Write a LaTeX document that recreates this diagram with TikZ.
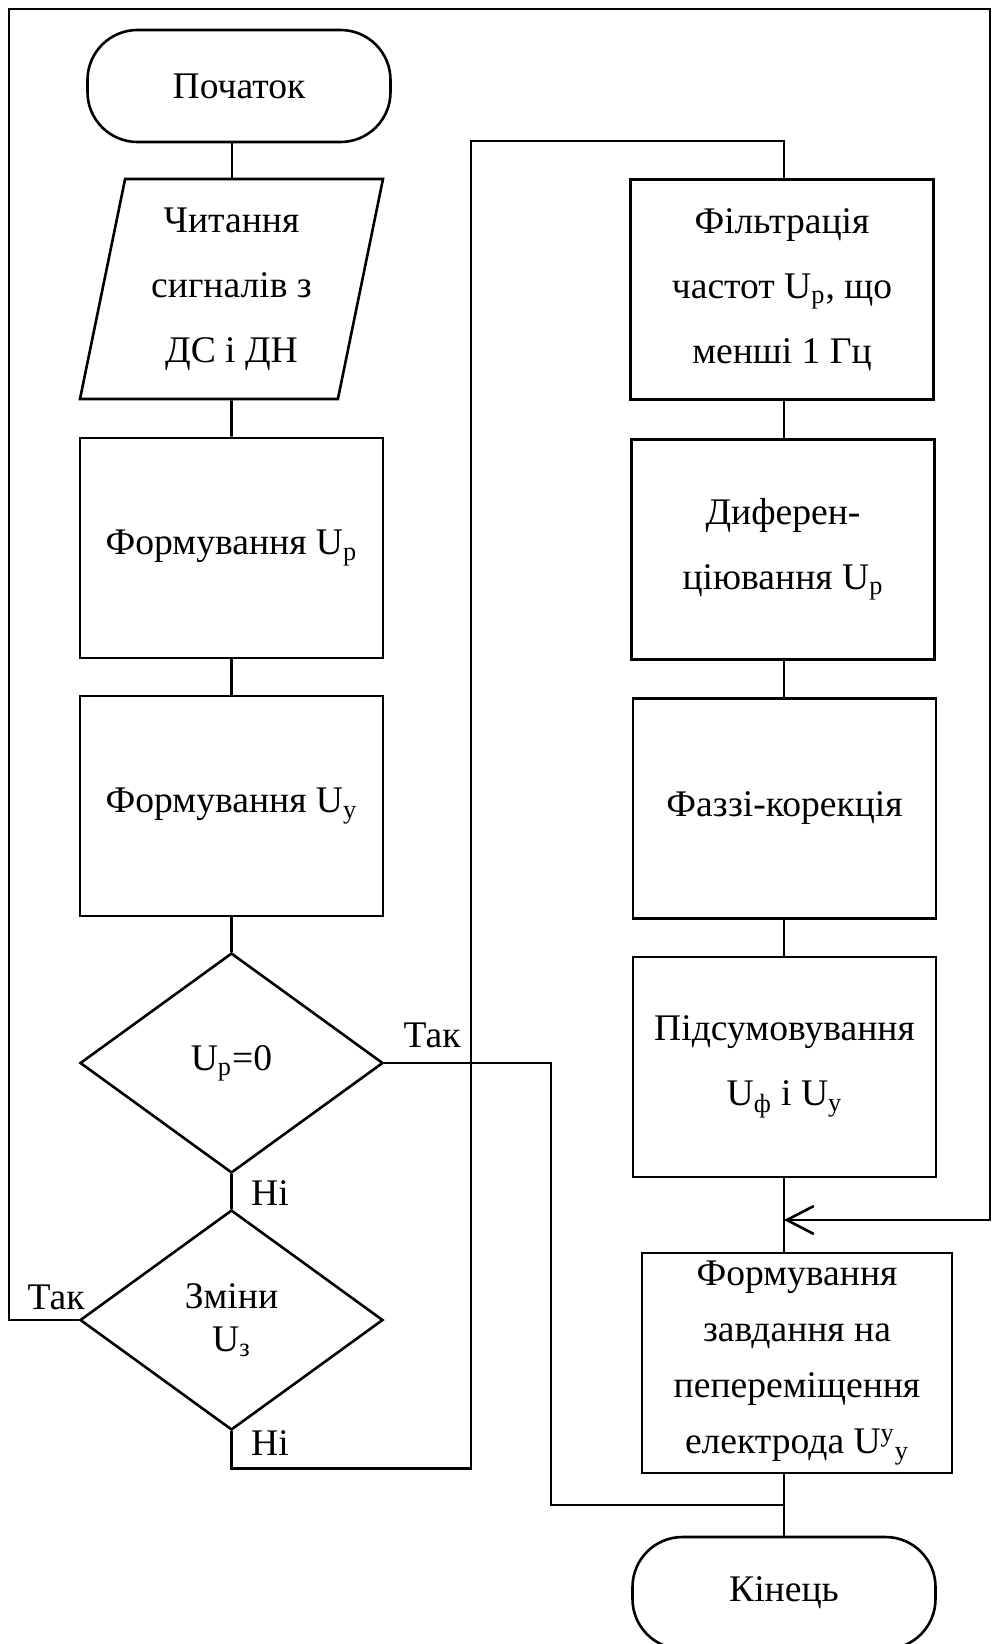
\documentclass[tikz,border=0pt]{standalone}
\usepackage{fontspec}
\setmainfont{Liberation Serif}
\usetikzlibrary{shapes.geometric,shapes.misc,arrows.meta,positioning,calc}

\begin{document}
\begin{tikzpicture}[x=0.5pt,y=-0.5pt,line width=1.3pt,
  font=\fontsize{18.8}{32.5}\selectfont,
  proc/.style={draw,rectangle,align=center,inner sep=0pt,minimum width=151.5pt,minimum height=110pt},
  term/.style={draw,rectangle,rounded corners=25pt,inner sep=0pt,minimum width=151.5pt,minimum height=56pt},
  io/.style={draw,trapezium,trapezium left angle=74.5,trapezium right angle=105.5,trapezium stretches body,
    align=center,inner sep=0pt,minimum width=151.5pt,minimum height=110pt},
  cond/.style={draw,diamond,aspect=1.38,align=center,inner sep=0pt,minimum width=151.5pt,minimum height=110pt},
  lbl/.style={inner sep=0pt},
  tip/.style={-{Straight Barb[length=13.5pt,width=14pt]}}]
  \useasboundingbox (0,0) rectangle (992,1644);
  \clip (0,0) rectangle (992,1644);

  % axes of the two columns and the bends of the loops
  \coordinate (lc) at (232,0);
  \coordinate (rc) at (784,0);
  \coordinate (bypass) at (471,141);
  \coordinate (ftl) at (9,9);
  \coordinate (fr) at (990,1220);
  \coordinate (merge) at (784,1220);
  \coordinate (ybend) at (551,1505);

  % left column
  \node[term] (start) at (239,86) {Початок};
  \node[io] (read) at (231.5,289) {Читання\\сигналів з\\ДС і ДН};
  \node[proc] (fup) at (231.5,548) {Формування U\textsubscript{р}};
  \node[proc] (fuy) at (231.5,806) {Формування U\textsubscript{у}};
  \node[cond] (zero) at (231.5,1063) {U\textsubscript{р}=0};
  \node[cond,font=\fontsize{18.8}{21.5}\selectfont] (chg) at (231.5,1320) {Зміни\\U\textsubscript{з}};

  % right column
  \node[proc] (filt) at (782,289.5) {Фільтрація\\частот U\textsubscript{р}, що\\менші 1 Гц};
  \node[proc] (diff) at (783,549.5) {Диферен-\\ціювання U\textsubscript{р}};
  \node[proc] (fuzzy) at (784.5,808.5) {Фаззі-корекція};
  \node[proc] (sum) at (784.5,1067) {Підсумовування\\U\textsubscript{ф} і U\textsubscript{у}};
  \node[proc,minimum width=155pt,font=\fontsize{18.8}{28}\selectfont] (task) at (797,1363)
    {Формування\\завдання на\\пепереміщення\\електрода U\textsuperscript{у}\textsubscript{у}};
  \node[term] (end) at (784,1593) {Кінець};

  % branch labels
  \node[lbl] (yes1) at (432,1035) {Так};
  \node[lbl] (no1) at (270,1193) {Ні};
  \node[lbl] (no2) at (270,1443) {Ні};
  \node[lbl] (yes2) at (56,1297) {Так};

  \draw (start.south -| lc) -- (read.north -| lc);
  \draw (read) -- (fup);
  \draw (fup) -- (fuy);
  \draw (fuy) -- (zero);
  \draw (zero) -- (chg);
  \draw (chg.south) -- ++(0,37) -| (bypass) -| (filt.north -| rc);

  \draw (filt.south -| rc) -- (diff.north -| rc);
  \draw (diff.south -| rc) -- (fuzzy.north -| rc);
  \draw (fuzzy.south -| rc) -- (sum.north -| rc);
  \draw (sum.south -| rc) -- (task.north -| rc);
  \draw (task.south -| rc) -- (end.north -| rc);

  % yes-branches
  \draw[tip] (chg.west) -| (ftl) -| (fr) -- (merge);
  \draw (zero.east) -| (ybend) -- (ybend -| rc);
\end{tikzpicture}
\end{document}
